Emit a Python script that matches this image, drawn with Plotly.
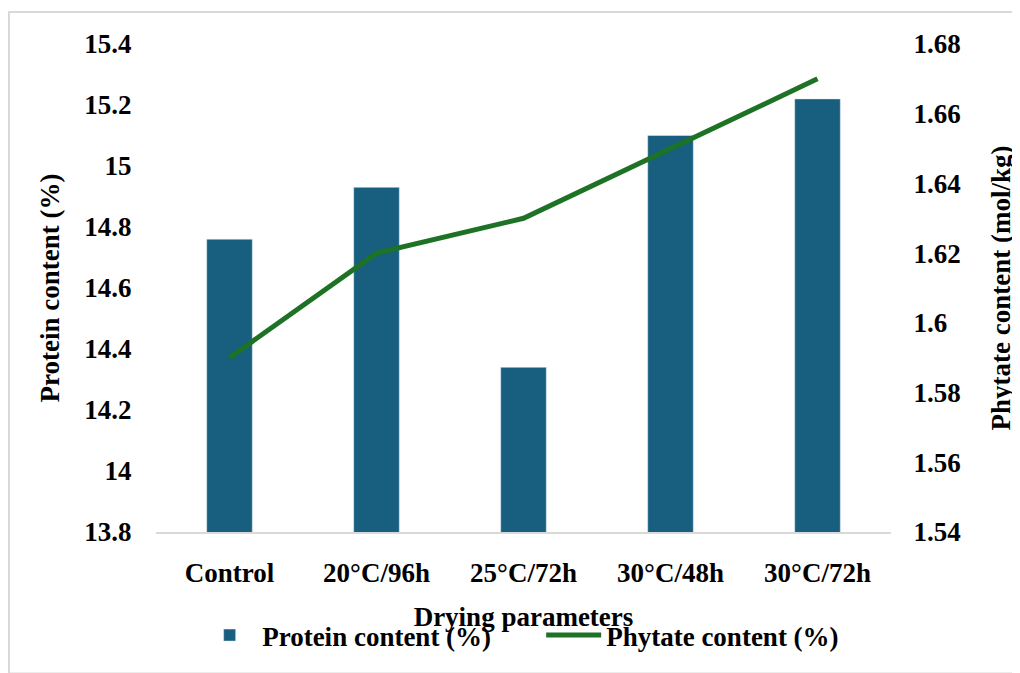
import plotly.graph_objects as go

categories = ["Control", "20°C/96h", "25°C/72h", "30°C/48h", "30°C/72h"]
protein = [14.76, 14.93, 14.34, 15.10, 15.22]
phytate = [1.59, 1.62, 1.63, 1.65, 1.67]

left_ticks = [13.8, 14.0, 14.2, 14.4, 14.6, 14.8, 15.0, 15.2, 15.4]
left_labels = ["13.8", "14", "14.2", "14.4", "14.6", "14.8", "15", "15.2", "15.4"]
right_ticks = [1.54, 1.56, 1.58, 1.60, 1.62, 1.64, 1.66, 1.68]
right_labels = ["1.54", "1.56", "1.58", "1.6", "1.62", "1.64", "1.66", "1.68"]

FONT = "Liberation Serif"
BAR = "#175E7F"
GREEN = "#1E7226"

fig = go.Figure()
fig.add_trace(go.Bar(
    x=categories, y=protein, name="<b>Protein content (%)</b>",
    marker=dict(color=BAR), width=0.31, yaxis="y",
))
fig.add_trace(go.Scatter(
    x=categories, y=phytate, name="<b>Phytate content (%)</b>",
    mode="lines", line=dict(color=GREEN, width=5), yaxis="y2",
))

tf = dict(family=FONT, size=27, color="black")

fig.update_layout(
    width=1012, height=665,
    margin=dict(l=148, r=129, t=36, b=141, autoexpand=False),
    paper_bgcolor="white", plot_bgcolor="white",
    font=dict(family=FONT, size=27, color="black"),
    xaxis=dict(
        showline=True, linecolor="#D9D9D9", linewidth=2,
        ticks="outside", ticklen=16, tickcolor="rgba(0,0,0,0)",
        tickvals=categories, ticktext=["<b>%s</b>" % c for c in categories],
        tickfont=tf,
        title=dict(text="<b>Drying parameters</b>", standoff=20, font=tf),
        showgrid=False, zeroline=False,
    ),
    yaxis=dict(
        range=[13.8, 15.4], tickvals=left_ticks,
        ticktext=["<b>%s</b>" % t for t in left_labels],
        showgrid=False, zeroline=False, showline=False,
        ticks="outside", ticklen=18, tickcolor="rgba(0,0,0,0)",
        tickfont=tf,
        title=dict(text="<b>Protein content (%)</b>", standoff=16, font=tf),
    ),
    yaxis2=dict(
        range=[1.54, 1.68], tickvals=right_ticks,
        ticktext=["<b>%s</b>" % t for t in right_labels],
        overlaying="y", side="right",
        showgrid=False, zeroline=False, showline=False,
        ticks="outside", ticklen=16, tickcolor="rgba(0,0,0,0)",
        tickfont=tf,
        title=dict(text="<b>Phytate content (mol/kg)</b>", standoff=31, font=tf),
    ),
    showlegend=True,
    legend=dict(
        orientation="h", x=0.056, xanchor="left", y=-0.162, yanchor="top",
        font=tf, bgcolor="rgba(0,0,0,0)", itemwidth=55, tracegroupgap=0,
        entrywidth=274, entrywidthmode="pixels",
    ),
    shapes=[dict(
        type="rect", xref="paper", yref="paper",
        x0=-147 / 735, x1=1.174, y0=-0.29, y1=1.0656,
        line=dict(color="#D9D9D9", width=2), fillcolor="rgba(0,0,0,0)",
        layer="below",
    )],
)

fig.write_html("out.html")
